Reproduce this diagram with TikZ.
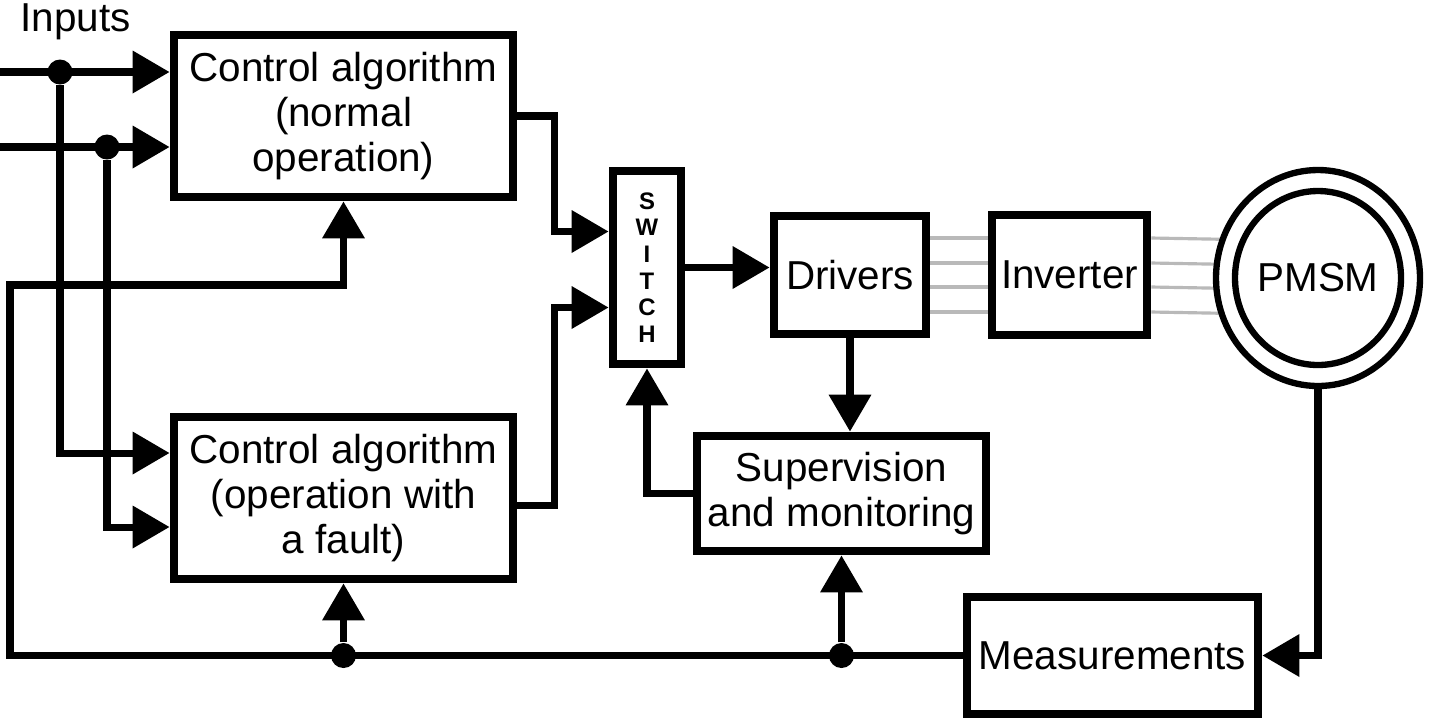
\documentclass[tikz,border=0pt]{standalone}
\usepackage{fontspec}
\setmainfont{Liberation Sans}
\usetikzlibrary{arrows.meta,positioning,calc,shapes.geometric,backgrounds}
\begin{document}
\begin{tikzpicture}[x=0.1mm,y=-0.1mm,>={Triangle[length=3.7mm,width=4.1mm]},font=\fontsize{11.5}{12.8}\selectfont]
\tikzstyle{b}=[draw,line width=2.5pt,align=center,inner sep=0pt]
\tikzstyle{w}=[line width=2pt]
\tikzstyle{g}=[line width=0.9pt,gray!55]
\tikzstyle{j}=[circle,fill,inner sep=0pt,minimum size=2.5mm]
\tikzstyle{m}=[draw,ellipse,line width=1.8pt,fill=white,inner sep=0pt]
\useasboundingbox (0,0) rectangle (1430,720);
\node[anchor=west] (lin) at (8,22) {Inputs};
\node[b,minimum width=33.9mm,minimum height=16.2mm] (cn) at (343.5,116) {Control algorithm\\(normal\\operation)};
\node[b,minimum width=33.9mm,minimum height=16.2mm] (cf) at (343.5,498) {Control algorithm\\(operation with\\a fault)};
\node[b,minimum width=6.8mm,minimum height=19.3mm,font=\bfseries\fontsize{6.8}{7.6}\selectfont] (sw) at (647,267.5) {S\\W\\I\\T\\C\\H};
\node[b,minimum width=15.2mm,minimum height=11.8mm] (drv) at (850,275) {Drivers};
\node[b,minimum width=15.5mm,minimum height=12mm] (inv) at (1069.5,275) {Inverter};
\node[b,minimum width=28.9mm,minimum height=11.5mm] (sup) at (841.5,493.5) {Supervision\\and monitoring};
\node[b,minimum width=29.1mm,minimum height=11.7mm] (meas) at (1112.5,655.5) {Measurements};
\node[m,minimum width=20.4mm,minimum height=21.6mm] (pmsm) at (1318,278) {};
\node[m,minimum width=16.6mm,minimum height=17.4mm] (pin) at (pmsm) {};
\node (ptxt) at (pin) {PMSM};
\coordinate (a1) at (0,72);
\coordinate (a2) at (0,147);
\node[j] (j1) at (60,72) {};
\node[j] (j2) at (107,147) {};
\draw[w,->] (a1) -- (cn.west |- a1);
\draw[w,->] (a2) -- (cn.west |- a2);
\draw[w,->] (j1) |- ($(cf.west)+(0,-45)$);
\draw[w,->] (j2) |- ($(cf.west)+(0,29)$);
\coordinate (f1) at (10,655.5);
\coordinate (f2) at (10,285);
\node[j] (j3) at (cn.south |- meas.west) {};
\node[j] (j4) at (sup.south |- meas.west) {};
\draw[w,->] (meas.west) -- (f1) -- (f2) -| (cn.south);
\draw[w,->] (j3) -- (cf.south);
\draw[w,->] (j4) -- (sup.south);
\draw[w,->] (cn.east) -- ++(37,0) |- ($(sw.west)+(0,-36)$);
\draw[w,->] ($(cf.east)+(0,7)$) -- ++(37,0) |- ($(sw.west)+(0,40)$);
\draw[w,->] (sw.east) -- (sw.east -| drv.west);
\draw[w,->] (drv.south) -- (drv.south |- sup.north);
\draw[w,->] (sup.west) -| (sw.south);
\draw[w,->] (pmsm.south) |- (meas.east);
\begin{scope}[on background layer]
\foreach \k in {-37,-12,12,37} {
  \draw[g] ($(drv.east)+(0,\k)$) -- ($(inv.west)+(0,\k)$);
  \draw[g] ($(inv.east)+(0,\k)$) -- ($(pmsm.center)+(0,\k)$);
}
\end{scope}
\end{tikzpicture}
\end{document}
